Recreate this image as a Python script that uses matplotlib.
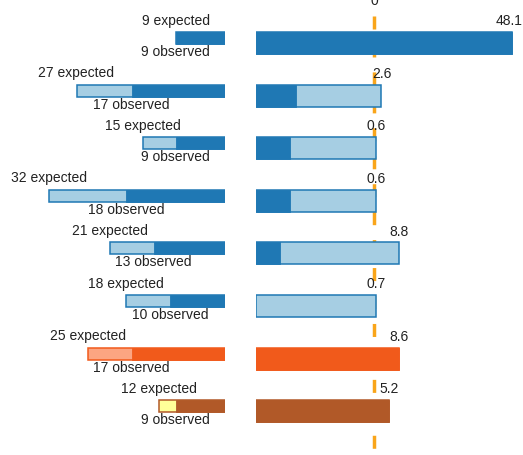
import numpy as np
import matplotlib
matplotlib.use("Agg")
import matplotlib.pyplot as plt

# ---- data ----
expected = [9, 27, 15, 32, 21, 18, 25, 12]
observed = [9, 17, 9, 18, 13, 10, 17, 9]
score = [48.1, 2.6, 0.6, 0.6, 8.8, 0.7, 8.6, 5.2]
score_dark = [48.1, -27.2, -29.3, -29.3, -32.8, np.nan, 8.6, 5.2]
dark_colors = ["#1f78b4"] * 6 + ["#f15a1b", "#b15928"]
light_colors = ["#a6cee3"] * 6 + ["#fca582", "#ffff99"]
reference_value = 0

# ---- layout ----
W, H = 523, 456
fig = plt.figure(figsize=(W / 100, H / 100), dpi=100)
plt.rcParams["font.family"] = ["Liberation Sans", "DejaVu Sans"]
FS = 10
TXT = "#222222"

pitch = 52.6
top0 = 33
ylim = ((H - top0) / pitch, -top0 / pitch)
h_left = 12 / pitch
h_right = 22 / pitch
rows = np.arange(len(expected))

# left panel
left_zero_px = 225
px_per_unit_left = 5.5
axL = fig.add_axes([0, 0, left_zero_px / W, 1])
axL.set_xlim(left_zero_px / px_per_unit_left, 0)
axL.set_ylim(*ylim)
axL.axis("off")

for i in rows:
    axL.barh(i, expected[i], height=h_left, align="edge", color=light_colors[i],
             edgecolor=dark_colors[i], linewidth=1.1, zorder=2)
    axL.barh(i, observed[i], height=h_left, align="edge", color=dark_colors[i],
             edgecolor=dark_colors[i], linewidth=0.6, zorder=3)
    axL.text(expected[i], i - 0.16, f"{expected[i]} expected", ha="center",
             va="baseline", fontsize=FS, color=TXT, clip_on=False)
    axL.text(observed[i], i + h_left, f"{observed[i]} observed", ha="center",
             va="top", fontsize=FS, color=TXT, clip_on=False)

# right panel
right_left_px = 256
zero_px = 374
px_per_unit_right = 2.863
xmin = (right_left_px - zero_px) / px_per_unit_right
xmax = xmin + (W - right_left_px) / px_per_unit_right
axR = fig.add_axes([right_left_px / W, 0, (W - right_left_px) / W, 1])
axR.set_xlim(xmin, xmax)
axR.set_ylim(*ylim)
axR.axis("off")

axR.plot([reference_value, reference_value], [-16 / pitch, ylim[0]], color="#f9a51a",
         linewidth=2.5, linestyle=(0, (3.75, 4.3)), zorder=1)
axR.text(reference_value, -0.53, "0", ha="center", va="baseline", fontsize=FS,
         color=TXT, clip_on=False)

for i in rows:
    axR.barh(i, score[i] - xmin, left=xmin, height=h_right, align="edge",
             color=light_colors[i] if i < 6 else dark_colors[i],
             edgecolor=dark_colors[i], linewidth=1.1, zorder=2)
    if not np.isnan(score_dark[i]):
        axR.barh(i, score_dark[i] - xmin, left=xmin, height=h_right, align="edge",
                 color=dark_colors[i], edgecolor=dark_colors[i], linewidth=0.6, zorder=3)
    near_edge = score[i] > 0.9 * xmax
    axR.text(xmax if near_edge else score[i], i - 0.15, f"{score[i]}",
             ha="right" if near_edge else "center", va="baseline",
             fontsize=FS, color=TXT, clip_on=False)

fig.savefig("out.png", dpi=100)
